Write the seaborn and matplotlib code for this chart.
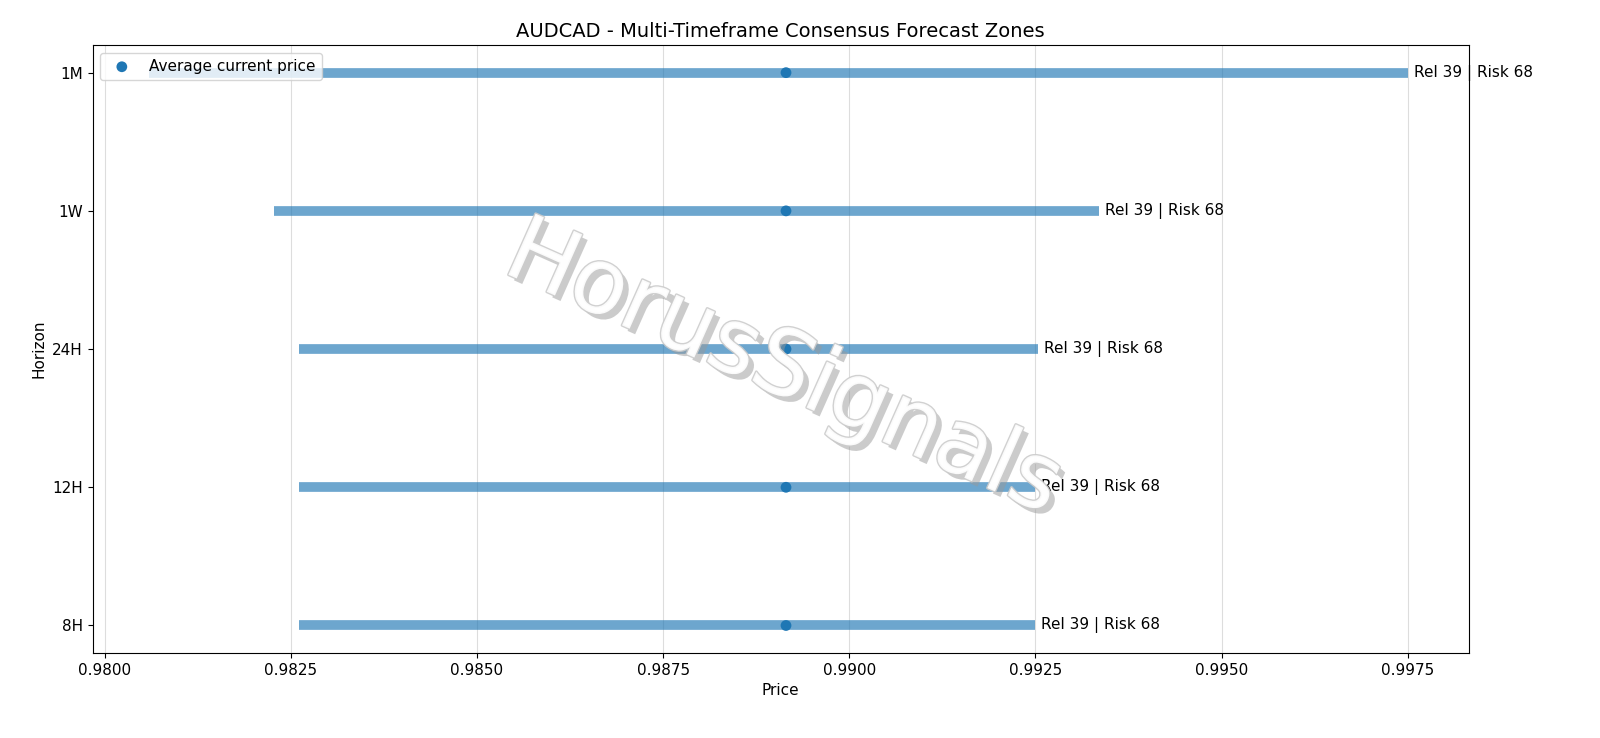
import matplotlib
matplotlib.use("Agg")
import matplotlib.pyplot as plt
import matplotlib.patheffects as pe
import seaborn as sns
import pandas as pd

horizons = ["8H", "12H", "24H", "1W", "1M"]
low = [0.98261, 0.98261, 0.98261, 0.98228, 0.98060]
high = [0.99250, 0.99249, 0.99253, 0.99335, 0.99750]
current = [0.98915, 0.98915, 0.98915, 0.98915, 0.98915]
labels = ["Rel 39 | Risk 68"] * 5

df = pd.DataFrame({"h": horizons, "low": low, "high": high, "cur": current, "lab": labels})
ypos = list(range(len(horizons)))

fig, ax = plt.subplots(figsize=(16, 7.38), dpi=100)
fig.subplots_adjust(left=0.058, right=0.918, top=0.939, bottom=0.115)
ax.hlines(ypos, df["low"], df["high"], color="#1f77b4", alpha=0.65, linewidth=7, zorder=2)
sns.scatterplot(x=df["cur"], y=ypos, ax=ax, color="#1f77b4", s=60, edgecolor="none",
                label="Average current price", zorder=3)
for y, hi, t in zip(ypos, df["high"], df["lab"]):
    ax.text(hi + 0.00008, y, t, va="center", ha="left", fontsize=11, zorder=4)
ax.set_yticks(ypos)
ax.set_yticklabels(horizons, fontsize=11)
ax.set_xlim(0.97984, 0.99832)
ax.set_ylim(-0.2, 4.2)
ax.tick_params(axis="x", labelsize=11)
ax.grid(axis="x", color="#dddddd", linewidth=0.8)
ax.set_axisbelow(True)
ax.set_xlabel("Price", fontsize=11)
ax.set_ylabel("Horizon", fontsize=11)
ax.set_title("AUDCAD - Multi-Timeframe Consensus Forecast Zones", fontsize=14)
ax.legend(loc="upper left", fontsize=11)
fig.text(0.49, 0.50, "HorusSignals", fontsize=66, rotation=-24, ha="center", va="center",
         color="white", alpha=0.9,
         path_effects=[pe.withSimplePatchShadow(offset=(4, -4), shadow_rgbFace="#999999", alpha=0.5),
                       pe.Stroke(linewidth=2, foreground="#cccccc"), pe.Normal()], zorder=5)
fig.savefig("out.png", dpi=100)
